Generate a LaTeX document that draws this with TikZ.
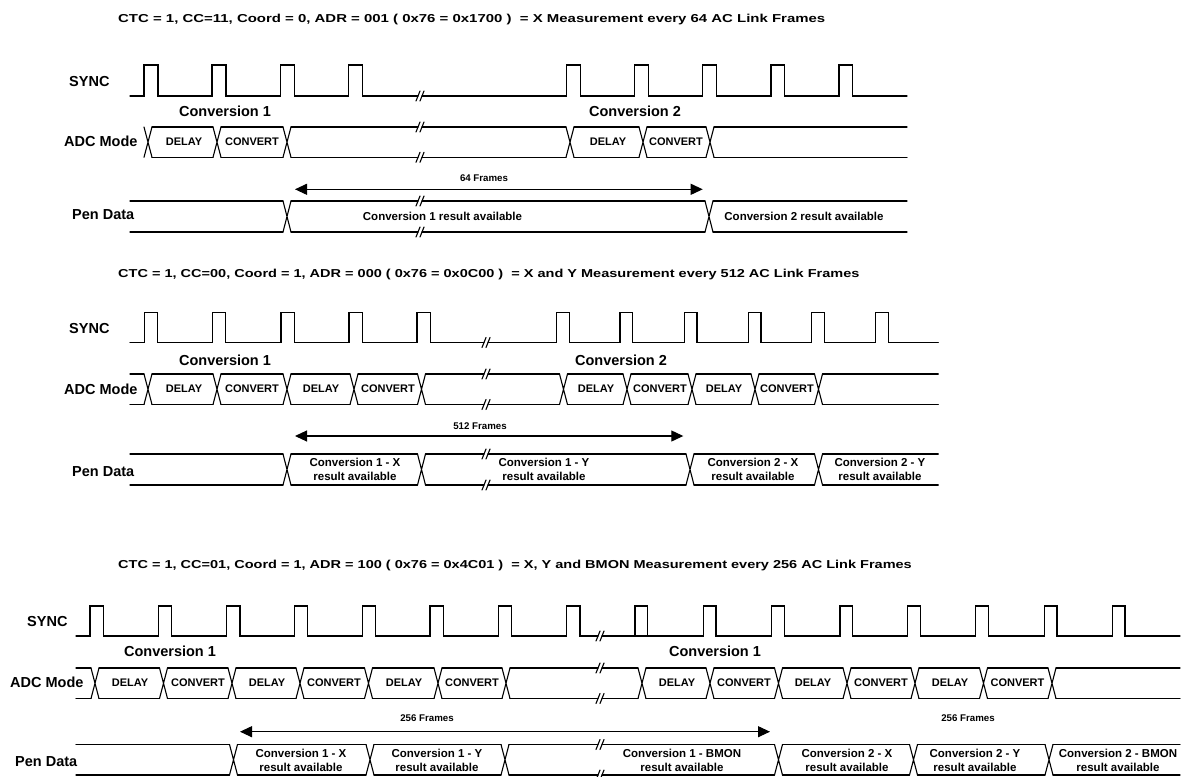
\documentclass[tikz,border=0pt]{standalone}
\usepackage{fontspec}
\setmainfont{Liberation Sans}
\newfontfamily\ttlfam[FakeStretch=1.3]{Liberation Sans}
\newfontfamily\ttlfamb[FakeStretch=1.262]{Liberation Sans}
\usetikzlibrary{arrows.meta}
\tikzset{
  sig/.style={line width=1.1pt, line cap=round},
  lbl/.style={font=\fontsize{14.5}{16}\selectfont\bfseries, inner sep=0},
  ttl/.style={font=\ttlfam\fontsize{11.5}{13}\selectfont\bfseries, inner sep=0, anchor=west},
  ttlb/.style={font=\ttlfamb\fontsize{11.5}{13}\selectfont\bfseries, inner sep=0, anchor=west},
  boxtxt/.style={font=\fontsize{11}{12}\selectfont\bfseries, inner sep=0},
  res/.style={font=\fontsize{11.5}{14}\selectfont\bfseries, inner sep=0, align=center},
  frm/.style={font=\fontsize{9.7}{11}\selectfont\bfseries, inner sep=0},
  span/.style={line width=1.1pt, {Triangle[length=12pt,width=11pt]}-{Triangle[length=12pt,width=11pt]}},
}
% break mark "//" centred at x=#1 on a line at y=#2
\newcommand\brk[2]{\draw[sig] ({#1-4},{#2+5})--({#1},{#2-5}) ({#1},{#2+5})--({#1+4},{#2-5});}
% bus crossing at x=#1 between top #2 and bottom #3
\newcommand\xing[3]{\foreach \c in {#1}{\draw[sig] ({\c-4},#2)--({\c+4},#3) ({\c-4},#3)--({\c+4},#2);}}
% bus line segments
\newcommand\segs[3]{\foreach \a/\b in {#3}{\draw[sig] (\a,#1)--(\b,#1) (\a,#2)--(\b,#2);}}
% pulse train: low high width start end rises
\newcommand\pulsetrain[6]{\draw[sig] (#4,#1) \foreach \r in {#6}{ -- (\r,#1) -- (\r,#2) -- ({\r+#3},#2) -- ({\r+#3},#1) } -- (#5,#1);}
\begin{document}
\begin{tikzpicture}[x=1pt,y=-1pt]
\useasboundingbox (0,0) rectangle (1190,776);

%================ Section 1 =================
\node[ttl] (t1) at (118,20) {CTC = 1, CC=11, Coord = 0, ADR = 001 ( 0x76 = 0x1700 ) \ = X Measurement every 64 AC Link Frames};
\node[lbl,anchor=west] (s1sync) at (69,81.7) {SYNC};
\node[lbl,anchor=west] (s1adc) at (64,141.7) {ADC Mode};
\node[lbl,anchor=west] (s1pen) at (72,215) {Pen Data};
% sync
\pulsetrain{96}{65}{14}{130}{418}{144,212,280.5,348.3}
\pulsetrain{96}{65}{13.7}{422}{907}{566.7,634.5,702.7,771,839}
\brk{420}{96}
% adc
\xing{148,217,287,570,643,710}{127}{157.3}
\segs{127}{157.3}{152/213,221/283,291/418,422/566,574/639,647/706,714/907}
\brk{420}{127}\brk{420}{157.3}
\node[lbl] (c11) at (225,111) {Conversion 1};
\node[lbl] (c12) at (635,111) {Conversion 2};
\node[boxtxt] (d11) at (184,142) {DELAY};
\node[boxtxt] (v11) at (252,142) {CONVERT};
\node[boxtxt] (d12) at (608,142) {DELAY};
\node[boxtxt] (v12) at (676,142) {CONVERT};
% frames
\coordinate (a1l) at (295,189.3);
\coordinate (a1r) at (702.7,189.3);
\draw[span] (a1l) -- (a1r);
\node[frm] (f1) at (484,178.3) {64 Frames};
% pen
\xing{287,709}{201}{232}
\segs{201}{232}{130/283,291/418,422/705,713/907}
\brk{420}{201}\brk{420}{232}
\node[res] (p11) at (442.5,216) {Conversion 1 result available};
\node[res] (p12) at (804,216) {Conversion 2 result available};

%================ Section 2 =================
\node[ttlb] (t2) at (118,275) {CTC = 1, CC=00, Coord = 1, ADR = 000 ( 0x76 = 0x0C00 ) \ = X and Y Measurement every 512 AC Link Frames};
\node[lbl,anchor=west] (s2sync) at (69,328.3) {SYNC};
\node[lbl,anchor=west] (s2adc) at (64,389) {ADC Mode};
\node[lbl,anchor=west] (s2pen) at (72,471.7) {Pen Data};
\pulsetrain{342.5}{312.5}{13.5}{130}{484}{144.3,212.3,281,349,417}
\pulsetrain{342.5}{312.5}{12.7}{488}{938.3}{556.7,620,684.3,748.3,811.7,875.7}
\draw[line width=1.6pt] (490,342.5) -- (556.7,342.5);
\brk{486}{342.5}
\xing{148,217,287,354,421.5,563.5,627,692,755,818.5}{374}{404.5}
\segs{374}{404.5}{130/144,152/213,221/283,291/350,358/417.5,425.5/484,488/559.5,567.5/623,631/688,696/751,759/814.5,822.5/938.3}
\brk{486}{374}\brk{486}{404.5}
\node[lbl] (c21) at (225,360) {Conversion 1};
\node[lbl] (c22) at (621,360.7) {Conversion 2};
\node[boxtxt] (d21) at (184,389) {DELAY};
\node[boxtxt] (v21) at (252,389) {CONVERT};
\node[boxtxt] (d22) at (321,389) {DELAY};
\node[boxtxt] (v22) at (388,389) {CONVERT};
\node[boxtxt] (d23) at (596,389) {DELAY};
\node[boxtxt] (v23) at (660,389) {CONVERT};
\node[boxtxt] (d24) at (724,389) {DELAY};
\node[boxtxt] (v24) at (787,389) {CONVERT};
\coordinate (a2l) at (295,436);
\coordinate (a2r) at (683.3,436);
\draw[span] (a2l) -- (a2r);
\node[frm] (f2) at (480,426) {512 Frames};
\xing{287,421.5,690,818.5}{454}{485}
\segs{454}{485}{130/283,291/417.5,425.5/484,488/686,694/814.5,822.5/938.3}
\brk{486}{454}\brk{486}{485}
\node[res] (p21) at (355,469.7) {Conversion 1 - X\\result available};
\node[res] (p22) at (544,469.7) {Conversion 1 - Y\\result available};
\node[res] (p23) at (753,469.7) {Conversion 2 - X\\result available};
\node[res] (p24) at (880,469.7) {Conversion 2 - Y\\result available};

%================ Section 3 =================
\node[ttlb] (t3) at (118,566) {CTC = 1, CC=01, Coord = 1, ADR = 100 ( 0x76 = 0x4C01 ) \ = X, Y and BMON Measurement every 256 AC Link Frames};
\node[lbl,anchor=west] (s3sync) at (27,621.7) {SYNC};
\node[lbl,anchor=west] (s3adc) at (10,682.7) {ADC Mode};
\node[lbl,anchor=west] (s3pen) at (15,761.7) {Pen Data};
\pulsetrain{636}{606}{13.3}{76}{598}{90,158.3,226.7,294.3,362.3,430,498.3,566.7}
\pulsetrain{636}{606}{12.7}{602}{1180}{635,703.3,771.7,840,907.7,975.7,1044.3,1112.3}
\draw[line width=1.6pt] (607,636) -- (675,636);
\brk{600}{636}
\xing{95,163.5,232,300,368.5,438,506,642,710,778.5,847,915,983.5,1052}{668}{698.5}
\segs{668}{698.5}{76/91,99/159.5,167.5/228,236/296,304/364.5,372.5/434,442/502,510/598,602/638,646/706,714/774.5,782.5/843,851/911,919/979.5,987.5/1048,1056/1180}
\brk{600}{668}\brk{600}{698.5}
\node[lbl] (c31) at (170,651.7) {Conversion 1};
\node[lbl] (c32) at (715,651.7) {Conversion 1};
\node[boxtxt] (d31) at (130,683) {DELAY};
\node[boxtxt] (v31) at (198,683) {CONVERT};
\node[boxtxt] (d32) at (267,683) {DELAY};
\node[boxtxt] (v32) at (334,683) {CONVERT};
\node[boxtxt] (d33) at (404,683) {DELAY};
\node[boxtxt] (v33) at (472,683) {CONVERT};
\node[boxtxt] (d34) at (677,683) {DELAY};
\node[boxtxt] (v34) at (744,683) {CONVERT};
\node[boxtxt] (d35) at (813,683) {DELAY};
\node[boxtxt] (v35) at (881,683) {CONVERT};
\node[boxtxt] (d36) at (950,683) {DELAY};
\node[boxtxt] (v36) at (1017.5,683) {CONVERT};
\coordinate (a3l) at (240,731.7);
\coordinate (a3r) at (770,731.7);
\draw[span] (a3l) -- (a3r);
\node[frm] (f31) at (427,718.3) {256 Frames};
\node[frm] (f32) at (968,718.3) {256 Frames};
\xing{233.5,370,505,778.5,913.5,1049}{744.5}{775}
\segs{744.5}{775}{76/229.5,237.5/366,374/501,509/598,602/774.5,782.5/909.5,917.5/1045,1053/1180}
\brk{600}{744.5}\brk{600}{775}
\node[res] (p31) at (301,760.3) {Conversion 1 - X\\result available};
\node[res] (p32) at (437,760.3) {Conversion 1 - Y\\result available};
\node[res] (p33) at (682,760.3) {Conversion 1 - BMON\\result available};
\node[res] (p34) at (847,760.3) {Conversion 2 - X\\result available};
\node[res] (p35) at (975,760.3) {Conversion 2 - Y\\result available};
\node[res] (p36) at (1118,760.3) {Conversion 2 - BMON\\result available};
\end{tikzpicture}
\end{document}
